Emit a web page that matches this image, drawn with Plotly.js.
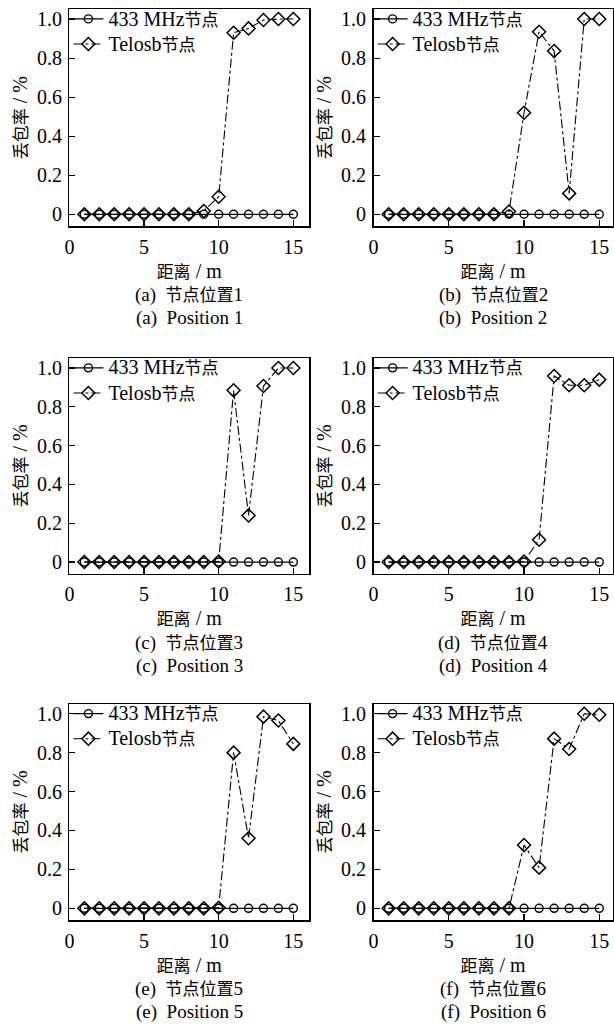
<!DOCTYPE html>
<html><head><meta charset="utf-8">
<script src="https://cdn.plot.ly/plotly-3.0.1.min.js"></script>
<style>html,body{margin:0;padding:0;background:#fff}#chart{width:614px;height:1035px}</style>
</head><body><div id="chart"></div>
<script>
const distance = [1,2,3,4,5,6,7,8,9,10,11,12,13,14,15];
const seriesNamesLatin = ['433 MHz', 'Telosb'];
const seriesNamesCJK = ['节点', '节点'];
const panelLetters = ['(a)', '(b)', '(c)', '(d)', '(e)', '(f)'];
const captionsZh = ['节点位置', '节点位置', '节点位置', '节点位置', '节点位置', '节点位置'];
const captionsNum = ['1', '2', '3', '4', '5', '6'];
const captionsEn = ['Position 1', 'Position 2', 'Position 3', 'Position 4', 'Position 5', 'Position 6'];
const xTitleCJK = '距离';
const xTitleLatin = ' / m';
const yTitleCJK = '丢包率';
const yTitleLatin = ' / %';
const yTickVals = [0, 0.2, 0.4, 0.6, 0.8, 1.0];
const yTickText = ['0', '0.2', '0.4', '0.6', '0.8', '1.0'];
const xTickVals = [0, 5, 10, 15];

const mhz433_a = [0,0,0,0,0,0,0,0,0,0,0,0,0,0,0];
const mhz433_b = [0,0,0,0,0,0,0,0,0,0,0,0,0,0,0];
const mhz433_c = [0,0,0,0,0,0,0,0,0,0,0,0,0,0,0];
const mhz433_d = [0,0,0,0,0,0,0,0,0,0,0,0,0,0,0];
const mhz433_e = [0,0,0,0,0,0,0,0,0,0,0,0,0,0,0];
const mhz433_f = [0,0,0,0,0,0,0,0,0,0,0,0,0,0,0];

const telosb_a = [0,0,0,0,0,0,0,0,0.017,0.09,0.93,0.952,0.995,1,1];
const telosb_b = [0,0,0,0,0,0,0,0,0.014,0.52,0.935,0.836,0.107,1,1];
const telosb_c = [0,0,0,0,0,0,0,0,0,0.003,0.885,0.24,0.907,1,1];
const telosb_d = [0,0,0,0,0,0,0,0,0,0.003,0.115,0.959,0.911,0.911,0.94];
const telosb_e = [0,0,0,0,0,0,0,0,0,0.003,0.8,0.36,0.985,0.965,0.845];
const telosb_f = [0,0,0,0,0,0,0,0,0,0.325,0.209,0.872,0.819,1,0.995];

const mhzSeries = [mhz433_a, mhz433_b, mhz433_c, mhz433_d, mhz433_e, mhz433_f];
const telosbSeries = [telosb_a, telosb_b, telosb_c, telosb_d, telosb_e, telosb_f];

const W = 614, H = 1035;
const FONT = 'Liberation Serif, Times New Roman, Noto Sans CJK SC, serif';
const sized = (s, px) => '<span style="font-size:' + px + 'px">' + s + '</span>';
// pixel geometry of plot boxes
const colX = [[69.4, 309], [373.6, 612.5]];
const colRange = [[0, 16.05], [0, 15.88]];
const rowY = [[9.3, 226], [358.3, 573.7], [704, 920]];
const yRange = [-0.06, 1.05];

const traces = [];
const layout = {
  width: W, height: H,
  margin: {l: 0, r: 0, t: 0, b: 0},
  paper_bgcolor: '#fff', plot_bgcolor: '#fff',
  font: {family: FONT, size: 19, color: '#000'},
  annotations: [],
  showlegend: true
};

for (let i = 0; i < 6; i++) {
  const col = i % 2, row = Math.floor(i / 2);
  const n = i + 1;
  const xa = n === 1 ? 'xaxis' : 'xaxis' + n;
  const ya = n === 1 ? 'yaxis' : 'yaxis' + n;
  const xr = n === 1 ? 'x' : 'x' + n;
  const yr = n === 1 ? 'y' : 'y' + n;
  const lg = n === 1 ? 'legend' : 'legend' + n;

  traces.push({
    x: distance, y: mhzSeries[i], xaxis: xr, yaxis: yr, legend: lg,
    name: sized(seriesNamesLatin[0], 20) + seriesNamesCJK[0], type: 'scatter', mode: 'lines+markers',
    line: {color: '#000', width: 1.3},
    marker: {symbol: 'circle-open', size: 8, color: '#000', line: {width: 1.4, color: '#000'}}
  });
  traces.push({
    x: distance, y: telosbSeries[i], xaxis: xr, yaxis: yr, legend: lg,
    name: sized(seriesNamesLatin[1], 20) + seriesNamesCJK[1], type: 'scatter', mode: 'lines+markers',
    line: {color: '#000', width: 1.1, dash: 'dashdot'},
    marker: {symbol: 'diamond-open', size: 10, color: '#000', line: {width: 1.5, color: '#000'}}
  });

  const x0 = colX[col][0] / W, x1 = colX[col][1] / W;
  const yTop = 1 - rowY[row][0] / H, yBot = 1 - rowY[row][1] / H;

  layout[xa] = {
    domain: [x0, x1], range: colRange[col], anchor: yr,
    tickvals: xTickVals, ticks: 'inside', ticklen: 6, tickwidth: 1.2, tickcolor: '#000',
    showline: true, linecolor: '#000', linewidth: 1.5, mirror: true,
    showgrid: false, zeroline: false, ticklabelstandoff: 2,
    tickfont: {family: FONT, size: 20, color: '#000'},
    title: {text: sized(xTitleCJK, 17) + xTitleLatin, font: {family: FONT, size: 20, color: '#000'}, standoff: 7}
  };
  layout[ya] = {
    domain: [yBot, yTop], range: yRange, anchor: xr,
    tickvals: yTickVals, ticktext: yTickText, ticks: 'inside', ticklen: 6, tickwidth: 1.2, tickcolor: '#000',
    showline: true, linecolor: '#000', linewidth: 1.5, mirror: true,
    showgrid: false, zeroline: false, ticklabelstandoff: 2,
    tickfont: {family: FONT, size: 20, color: '#000'},
    title: {text: sized(yTitleCJK, 17) + yTitleLatin, font: {family: FONT, size: 20, color: '#000'}, standoff: 4}
  };
  // pixel y of value 1.0 in this row
  const pxPerUnit = (rowY[row][1] - rowY[row][0]) / (yRange[1] - yRange[0]);
  const yOne = rowY[row][0] + (yRange[1] - 1) * pxPerUnit;
  const legendTop = yOne - 1 - 16.7;
  layout[lg] = {
    x: (colX[col][0] - 1) / W, y: 1 - legendTop / H, xanchor: 'left', yanchor: 'top',
    bgcolor: 'rgba(0,0,0,0)', borderwidth: 0,
    font: {family: FONT, size: 17, color: '#000'},
    tracegroupgap: 0, itemwidth: 30
  };

  const cx = (colX[col][0] + colX[col][1]) / 2 / W;
  const capY1 = rowY[row][1] + 69, capY2 = rowY[row][1] + 92;
  layout.annotations.push({
    xref: 'paper', yref: 'paper', x: cx, y: 1 - capY1 / H, xanchor: 'center', yanchor: 'middle',
    text: panelLetters[i] + '  ' + sized(captionsZh[i], 17) + captionsNum[i], showarrow: false,
    font: {family: FONT, size: 19, color: '#000'}
  });
  layout.annotations.push({
    xref: 'paper', yref: 'paper', x: cx, y: 1 - capY2 / H, xanchor: 'center', yanchor: 'middle',
    text: panelLetters[i] + '  ' + captionsEn[i], showarrow: false,
    font: {family: FONT, size: 19, color: '#000'}
  });
}

Plotly.newPlot('chart', traces, layout, {displayModeBar: false, staticPlot: true});
</script>
</body></html>
